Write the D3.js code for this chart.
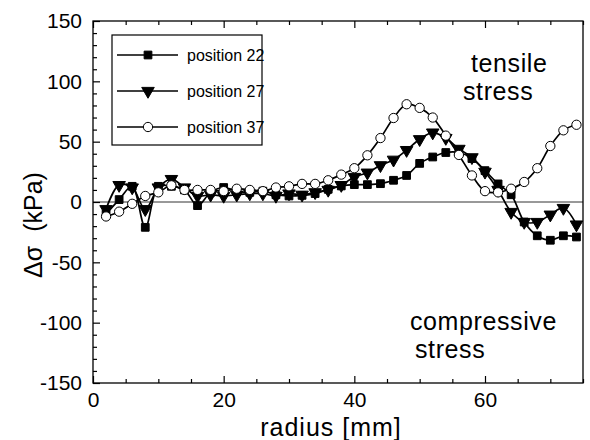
<!DOCTYPE html>
<html>
<head>
<meta charset="utf-8">
<script src="https://cdn.jsdelivr.net/npm/d3@7"></script>
<style>
  body { margin: 0; background: #fff; }
  svg text { font-family: Arial, "Liberation Sans", Helvetica, sans-serif; fill: #000; }
</style>
</head>
<body>
<div class="chart"></div>
<script>
// radius positions [mm]
const radius = [2, 4, 6, 8, 10, 12, 14, 16, 18, 20, 22, 24, 26, 28, 30, 32, 34, 36, 38,
  40, 42, 44, 46, 48, 50, 52, 54, 56, 58, 60, 62, 64, 66, 68, 70, 72, 74];

// delta sigma [kPa] per position
const pos22 = [-10, 2, 13, -21, 13, 13, 10, -3, 8, 12, 9, 8, 9, 6, 5, 5.5, 7, 10.5, 13.3,
  14.4, 14.4, 15.2, 18, 22, 32, 37.3, 41, 41, 36, 26, 15, 6, -16.6, -28, -31.7, -28, -29];
const pos27 = [-6, 14, 12, -6, 12, 19, 12, 5, 6, 5, 6, 7, 7, 5, 7, 6, 8, 10, 14,
  20.7, 24.3, 30.4, 35, 43, 52, 57.5, 53, 44, 37, 25, 10, -8.3, -16.6, -16.6, -10.5, -5, -18.7];
const pos37 = [-12, -8, -1.5, 5, 8, 13.8, 10, 10, 10, 9, 11, 10, 9, 12, 13, 15, 15, 18, 22.7,
  28, 38.7, 53, 69.6, 81, 78, 70, 55, 39, 22, 9, 8, 11, 16.6, 28, 46.4, 59.4, 64];

const seriesNames = ['position 22', 'position 27', 'position 37'];
const xTicks = [0, 20, 40, 60];
const yTicks = [-150, -100, -50, 0, 50, 100, 150];

const margin = { top: 21, right: 7, bottom: 57, left: 93 },
  width = 590 - margin.left - margin.right,
  height = 440 - margin.top - margin.bottom;

const x = d3.scaleLinear().domain([0, 75]).range([0, width]);
const y = d3.scaleLinear().domain([-150, 150]).range([height, 0]);

const svg = d3.select('.chart').append('svg')
  .attr('width', 590)
  .attr('height', 440)
  .append('g')
  .attr('transform', `translate(${margin.left},${margin.top})`);

// zero line
svg.append('line')
  .attr('x1', 0).attr('x2', width)
  .attr('y1', y(0)).attr('y2', y(0))
  .attr('stroke', '#333').attr('stroke-width', 1);

// frame
svg.append('rect')
  .attr('width', width).attr('height', height)
  .attr('fill', 'none').attr('stroke', '#000').attr('stroke-width', 1.3);

// ticks (inward)
function styleAxis(g) {
  g.select('.domain').remove();
  g.selectAll('line').attr('stroke', '#000').attr('stroke-width', 1.2);
  g.selectAll('text').style('font-size', '21px');
}
const minorX = d3.range(0, 76, 5).filter(v => v % 20 !== 0);
const minorY = d3.range(-150, 151, 10).filter(v => v % 50 !== 0);
const plain = d => String(d);

svg.append('g').attr('transform', `translate(0,${height})`)
  .call(d3.axisBottom(x).tickValues(xTicks).tickSizeInner(-7).tickSizeOuter(0).tickPadding(9).tickFormat(plain))
  .call(styleAxis);
svg.append('g').attr('transform', `translate(0,${height})`)
  .call(d3.axisBottom(x).tickValues(minorX).tickSize(-4).tickFormat(''))
  .call(styleAxis);
svg.append('g')
  .call(d3.axisTop(x).tickValues(xTicks).tickSize(-7).tickFormat(''))
  .call(styleAxis);
svg.append('g')
  .call(d3.axisTop(x).tickValues(minorX).tickSize(-4).tickFormat(''))
  .call(styleAxis);
svg.append('g')
  .call(d3.axisLeft(y).tickValues(yTicks).tickSizeInner(-7).tickSizeOuter(0).tickPadding(11).tickFormat(plain))
  .call(styleAxis);
svg.append('g')
  .call(d3.axisLeft(y).tickValues(minorY).tickSize(-4).tickFormat(''))
  .call(styleAxis);

// axis titles
svg.append('text')
  .attr('x', width / 2 - 7).attr('y', height + 53)
  .attr('text-anchor', 'middle')
  .style('font-size', '25px')
  .style('letter-spacing', '1px')
  .text('radius [mm]');
svg.append('text')
  .attr('transform', `translate(${-51},${204}) rotate(-90)`)
  .attr('text-anchor', 'middle')
  .style('font-size', '25px')
  .style('white-space', 'pre')
  .text('Δσ  (kPa)');

// series
const line = d3.line()
  .x(d => x(d[0]))
  .y(d => y(d[1]))
  .curve(d3.curveCatmullRom.alpha(0.5));

const sym = [
  d3.symbol().type(d3.symbolSquare).size(60),
  d3.symbol().type(d3.symbolTriangle).size(68),
  d3.symbol().type(d3.symbolCircle).size(68),
];
const fills = ['#000', '#000', '#fff'];
const rot = [0, 180, 0];

[pos22, pos27, pos37].forEach((vals, i) => {
  const pts = radius.map((r, j) => [r, vals[j]]);
  svg.append('path')
    .datum(pts)
    .attr('fill', 'none')
    .attr('stroke', '#000')
    .attr('stroke-width', 1.7)
    .attr('d', line);
  svg.append('g').selectAll('path')
    .data(pts)
    .join('path')
    .attr('d', sym[i])
    .attr('transform', d => `translate(${x(d[0])},${y(d[1])}) rotate(${rot[i]})`)
    .attr('fill', fills[i])
    .attr('stroke', '#000')
    .attr('stroke-width', 1);
});

// legend
const leg = svg.append('g').attr('transform', 'translate(19,14)');
leg.append('rect')
  .attr('width', 150).attr('height', 110)
  .attr('fill', '#fff').attr('stroke', '#000').attr('stroke-width', 1.2);
seriesNames.forEach((name, i) => {
  const ly = 20 + i * 36;
  leg.append('line')
    .attr('x1', 5).attr('x2', 66).attr('y1', ly).attr('y2', ly)
    .attr('stroke', '#000').attr('stroke-width', 1.7);
  leg.append('path')
    .attr('d', sym[i])
    .attr('transform', `translate(36,${ly}) rotate(${rot[i]})`)
    .attr('fill', fills[i]).attr('stroke', '#000');
  leg.append('text')
    .attr('x', 75).attr('y', ly + 6)
    .style('font-size', '16px')
    .text(name);
});

// annotations
[['tensile', 378, 51], ['stress', 370, 79], ['compressive', 317, 309], ['stress', 322, 337]]
  .forEach(([t, tx, ty]) => {
    svg.append('text').attr('x', tx).attr('y', ty)
      .style('font-size', '25px')
      .style('letter-spacing', '0.6px')
      .text(t);
  });
</script>
</body>
</html>
